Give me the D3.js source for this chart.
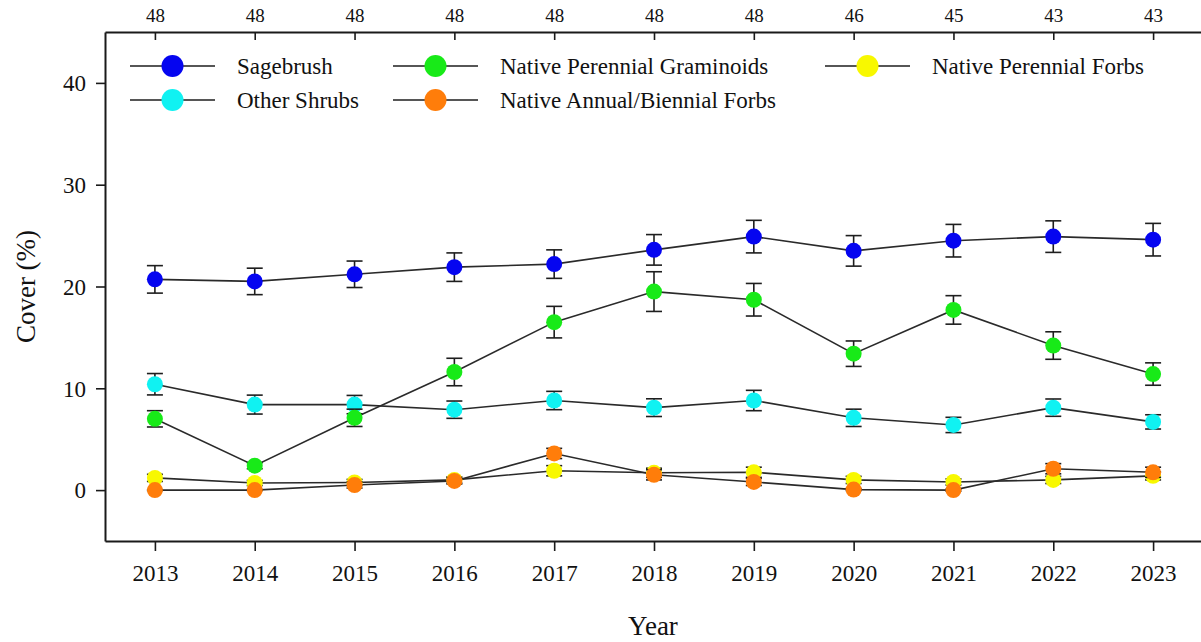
<!DOCTYPE html>
<html>
<head>
<meta charset="utf-8">
<script src="https://cdn.jsdelivr.net/npm/d3@7"></script>
<style>
  html, body { margin: 0; padding: 0; background: #fff; }
  svg { display: block; }
  text { font-family: "Liberation Serif", "Times New Roman", serif; fill: #111; }
</style>
</head>
<body>
<svg id="chart" width="1201" height="642"></svg>
<script>
// Survey years and plot counts sampled each year (top axis)
const years = [2013, 2014, 2015, 2016, 2017, 2018, 2019, 2020, 2021, 2022, 2023];
const sampleSizes = [48, 48, 48, 48, 48, 48, 48, 46, 45, 43, 43];
const yTicks = [0, 10, 20, 30, 40];

// Mean cover (%) and standard error per functional group
const sagebrush     = [20.7, 20.5, 21.2, 21.9, 22.2, 23.6, 24.9, 23.5, 24.5, 24.9, 24.6];
const sagebrushSE   = [1.35, 1.3, 1.3, 1.4, 1.4, 1.5, 1.6, 1.5, 1.6, 1.55, 1.6];
const otherShrubs   = [10.4, 8.4, 8.4, 7.9, 8.8, 8.1, 8.8, 7.1, 6.4, 8.1, 6.7];
const otherShrubsSE = [1.05, 0.93, 0.9, 0.85, 0.9, 0.87, 1.0, 0.85, 0.75, 0.85, 0.7];
const perennialForbs   = [1.2, 0.7, 0.75, 1.0, 1.9, 1.7, 1.75, 1.0, 0.8, 1.0, 1.4];
const perennialForbsSE = [0.35, 0.25, 0.3, 0.3, 0.5, 0.45, 0.5, 0.35, 0.3, 0.35, 0.4];
const graminoids    = [7.0, 2.4, 7.1, 11.6, 16.5, 19.5, 18.7, 13.4, 17.7, 14.2, 11.4];
const graminoidsSE  = [0.8, 0.3, 0.85, 1.35, 1.55, 1.95, 1.6, 1.25, 1.4, 1.35, 1.1];
const annualForbs   = [0.0, 0.0, 0.5, 0.9, 3.6, 1.5, 0.8, 0.05, 0.0, 2.1, 1.75];
const annualForbsSE = [0.05, 0.05, 0.3, 0.3, 0.5, 0.5, 0.35, 0.1, 0.1, 0.5, 0.5];

// Series in drawing order (later ones sit on top)
const series = [
  { name: "Sagebrush", values: sagebrush, se: sagebrushSE, color: "#0505f0" },
  { name: "Other Shrubs", values: otherShrubs, se: otherShrubsSE, color: "#10f2f2" },
  { name: "Native Perennial Forbs", values: perennialForbs, se: perennialForbsSE, color: "#f8f800" },
  { name: "Native Perennial Graminoids", values: graminoids, se: graminoidsSE, color: "#18ea18" },
  { name: "Native Annual/Biennial Forbs", values: annualForbs, se: annualForbsSE, color: "#ff7d0a" }
];

// Legend layout: [series name, column, row]
const legendLayout = [
  ["Sagebrush", 0, 0],
  ["Native Perennial Graminoids", 1, 0],
  ["Native Perennial Forbs", 2, 0],
  ["Other Shrubs", 0, 1],
  ["Native Annual/Biennial Forbs", 1, 1]
];

const svg = d3.select("#chart");
const plot = { left: 105, right: 1203, top: 32, bottom: 541 };

const x = d3.scaleLinear().domain([2012.5, 2023.5]).range([plot.left, plot.right]);
const y = d3.scaleLinear().domain([-5, 45]).range([plot.bottom, plot.top]);

const axisColor = "#1a1a1a";

// Bottom axis (years)
const gx = svg.append("g")
  .attr("transform", `translate(0,${plot.bottom})`)
  .call(d3.axisBottom(x).tickValues(years).tickFormat(d3.format("d")).tickSizeInner(10).tickSizeOuter(0).tickPadding(14));

// Left axis (cover)
const gy = svg.append("g")
  .attr("transform", `translate(${plot.left},0)`)
  .call(d3.axisLeft(y).tickValues(yTicks).tickSizeInner(9).tickSizeOuter(0).tickPadding(10));

// Top axis (sample sizes), ticks pointing into the plot
const gt = svg.append("g")
  .attr("transform", `translate(0,${plot.top})`)
  .call(d3.axisTop(x).tickValues(years).tickFormat((d, i) => sampleSizes[i]).tickSizeInner(-8).tickSizeOuter(0).tickPadding(10));

[gx, gy, gt].forEach(g => {
  g.select(".domain").attr("stroke", axisColor).attr("stroke-width", 2);
  g.selectAll(".tick line").attr("stroke", axisColor).attr("stroke-width", 1.6);
  g.selectAll(".tick text").attr("fill", "#111").style("font-family", '"Liberation Serif", "Times New Roman", serif');
});
gx.selectAll(".tick text").style("font-size", "23px");
gy.selectAll(".tick text").style("font-size", "23px").attr("dy", "0.34em");
gt.selectAll(".tick text").style("font-size", "19px");

// Axis titles
svg.append("text")
  .attr("x", (plot.left + plot.right) / 2 - 1)
  .attr("y", 635)
  .attr("text-anchor", "middle")
  .style("font-size", "27px")
  .text("Year");

svg.append("text")
  .attr("transform", `translate(35,${y(20)}) rotate(-90)`)
  .attr("text-anchor", "middle")
  .style("font-size", "27px")
  .text("Cover (%)");

const line = d3.line()
  .x((d, i) => x(years[i]))
  .y(d => y(d));

const capHalf = 8;
const markerR = 8;

// Connecting lines
series.forEach(s => {
  svg.append("path")
    .datum(s.values)
    .attr("fill", "none")
    .attr("stroke", "#2a2a2a")
    .attr("stroke-width", 1.6)
    .attr("d", line);
});

// Error bars and markers for each series
series.forEach(s => {
  const g = svg.append("g");
  const pts = s.values.map((v, i) => ({ year: years[i], v, se: s.se[i] }));
  const eb = g.selectAll(".eb").data(pts).enter().append("g").attr("class", "eb")
    .attr("stroke", "#1e1e1e").attr("stroke-width", 1.6);
  eb.append("line")
    .attr("x1", d => x(d.year)).attr("x2", d => x(d.year))
    .attr("y1", d => y(d.v + d.se)).attr("y2", d => y(d.v - d.se));
  eb.append("line")
    .attr("x1", d => x(d.year) - capHalf).attr("x2", d => x(d.year) + capHalf)
    .attr("y1", d => y(d.v + d.se)).attr("y2", d => y(d.v + d.se));
  eb.append("line")
    .attr("x1", d => x(d.year) - capHalf).attr("x2", d => x(d.year) + capHalf)
    .attr("y1", d => y(d.v - d.se)).attr("y2", d => y(d.v - d.se));
  g.selectAll("circle").data(pts).enter().append("circle")
    .attr("cx", d => x(d.year))
    .attr("cy", d => y(d.v))
    .attr("r", markerR)
    .attr("fill", s.color);
});

// Legend
const legendCols = [130, 393, 825];
const legendRows = [66, 100];
const legendLineLen = 85;
const legend = svg.append("g");
legendLayout.forEach(([name, c, r]) => {
  const s = series.find(d => d.name === name);
  const lx = legendCols[c], ly = legendRows[r];
  legend.append("line")
    .attr("x1", lx).attr("x2", lx + legendLineLen)
    .attr("y1", ly).attr("y2", ly)
    .attr("stroke", "#1e1e1e").attr("stroke-width", 1.6);
  legend.append("circle")
    .attr("cx", lx + legendLineLen / 2).attr("cy", ly).attr("r", 11)
    .attr("fill", s.color);
  legend.append("text")
    .attr("x", lx + legendLineLen + 22)
    .attr("y", ly)
    .attr("dy", "0.33em")
    .style("font-size", "23px")
    .text(name);
});
</script>
</body>
</html>
